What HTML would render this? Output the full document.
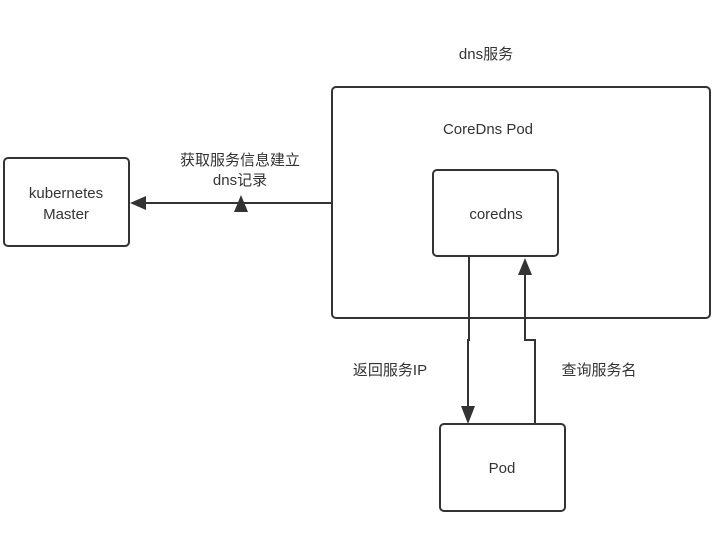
<!DOCTYPE html>
<html><head><meta charset="utf-8"><style>
body{margin:0;background:#fff;}
svg text{font-family:"Liberation Sans","Noto Sans CJK SC",sans-serif;font-size:15px;fill:#333;}
</style></head><body>
<svg width="722" height="528" xmlns="http://www.w3.org/2000/svg">
<g fill="none" stroke="#333" stroke-width="2">
<rect x="4" y="158" width="125" height="88" rx="4"/>
<rect x="332" y="87" width="378" height="231" rx="4"/>
<rect x="433" y="170" width="125" height="86" rx="4"/>
<rect x="440" y="424" width="125" height="87" rx="4"/>
<line x1="332" y1="203" x2="145" y2="203"/>
<polyline points="469,256 469,340 468,340 468,408"/>
<polyline points="535,424 535,340 525,340 525,272"/>
</g>
<g fill="#333">
<polygon points="130,203 146,196 146,210"/>
<polygon points="241,195 234,212 248,212"/>
<polygon points="468,424 461,406 475,406"/>
<polygon points="525,258 518,275 532,275"/>
</g>
<text x="486" y="59" text-anchor="middle">dns服务</text>
<text x="488" y="134" text-anchor="middle">CoreDns Pod</text>
<text x="496" y="219" text-anchor="middle">coredns</text>
<text x="66" y="198" text-anchor="middle">kubernetes</text>
<text x="66" y="219" text-anchor="middle">Master</text>
<text x="240" y="165" text-anchor="middle">获取服务信息建立</text>
<text x="240" y="185" text-anchor="middle">dns记录</text>
<text x="390" y="375" text-anchor="middle">返回服务IP</text>
<text x="599" y="375" text-anchor="middle">查询服务名</text>
<text x="502" y="473" text-anchor="middle">Pod</text>
</svg>
</body></html>
